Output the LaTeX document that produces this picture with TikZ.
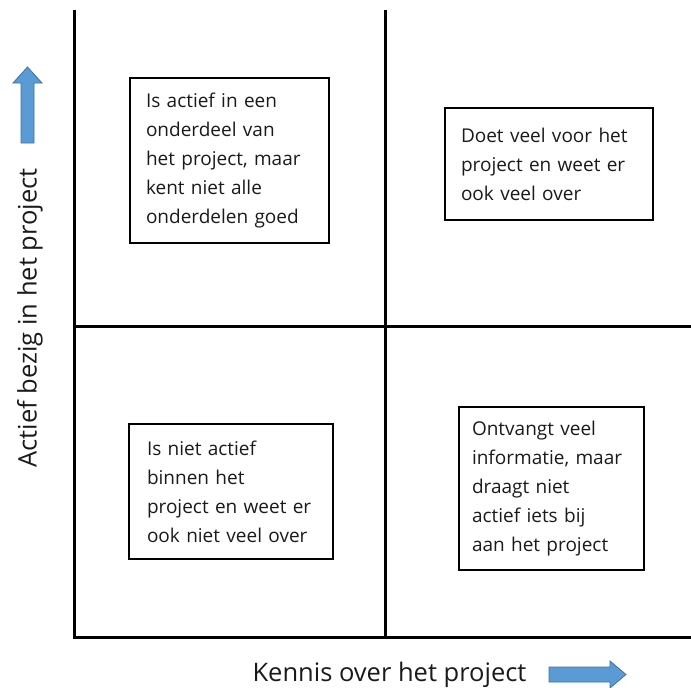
\documentclass[tikz,border=0pt]{standalone}
\usepackage{fontspec}
\setmainfont{Open Sans}
\definecolor{arrowfill}{HTML}{5B9BD5}
\definecolor{arrowedge}{HTML}{41719C}
\definecolor{ink}{HTML}{1A1A1A}
\begin{document}
\begin{tikzpicture}[x=1pt,y=-1pt,
  axisline/.style={line width=3pt,black},
  quadbox/.style={draw=black,line width=1.2pt,align=left,anchor=center,inner xsep=0pt,inner ysep=0pt,
    font=\fontsize{19}{29}\selectfont,text=ink},
  axislabel/.style={font=\fontsize{25.5}{30}\selectfont,text=ink},
  bluearrow/.style={fill=arrowfill,draw=arrowedge,line width=0.8pt}]
\useasboundingbox (0,0) rectangle (691,688);
% axes and grid
\coordinate (lt) at (74.5,10);
\coordinate (lb) at (74.5,637.5);
\coordinate (rb) at (691,637.5);
\coordinate (mt) at (385.5,10);
\coordinate (mb) at (385.5,637.5);
\coordinate (ml) at (74.5,326);
\coordinate (mr) at (691,326);
\draw[axisline] (lt) -- (lb) -- (rb);
\draw[axisline] (mt) -- (mb);
\draw[axisline] (ml) -- (mr);
% boxes
\node[quadbox,minimum width=199pt,minimum height=165pt,text width=167pt] (q1) at (229.5,160.5)
  {Is actief in een\\onderdeel van\\het project, maar\\kent niet alle\\onderdelen goed};
\node[quadbox,minimum width=208pt,minimum height=112pt,text width=176pt] (q2) at (549,164)
  {Doet veel voor het\\project en weet er\\ook veel over};
\node[quadbox,minimum width=204pt,minimum height=135pt,text width=168pt] (q3) at (231,491.5)
  {Is niet actief\\binnen het\\project en weet er\\ook niet veel over};
\node[quadbox,minimum width=185pt,minimum height=163pt,text width=159pt] (q4) at (551.5,488.5)
  {Ontvangt veel\\informatie, maar\\draagt niet\\actief iets bij\\aan het project};
% axis labels
\node[axislabel,rotate=90] (ylab) at (30,318) {Actief bezig in het project};
\node[axislabel] (xlab) at (389.5,675) {Kennis over het project};
% arrows
\draw[bluearrow] (21,143) -- (21,83) -- (13,83) -- (27.5,67) -- (42,83) -- (34,83) -- (34,143) -- cycle;
\draw[bluearrow] (549,667) -- (610,667) -- (610,661) -- (626,674.5) -- (610,688) -- (610,682) -- (549,682) -- cycle;
\end{tikzpicture}
\end{document}
